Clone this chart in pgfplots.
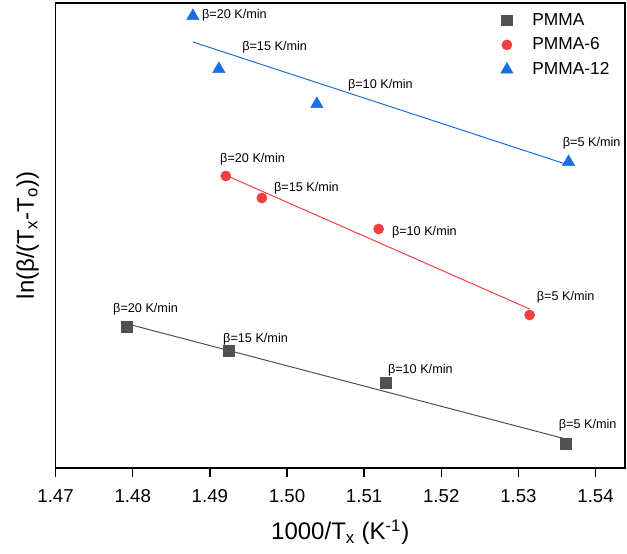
\documentclass[border=0pt]{standalone}
\usepackage{fontspec}
\setmainfont{Liberation Sans}
\usepackage{pgfplots}
\pgfplotsset{compat=1.18}
\definecolor{pgray}{HTML}{515151}
\definecolor{pred}{HTML}{F14040}
\definecolor{pblue}{HTML}{1A6FDF}

\begin{document}
\begin{tikzpicture}
\path[use as bounding box] (-41.7pt,-64.5pt) rectangle (428.6pt,351pt);
\begin{axis}[
  scale only axis, width=427pt, height=348.75pt,
  xmin=1.47, xmax=1.5438, ymin=0, ymax=4.65,
  xtick={1.47,1.48,1.49,1.50,1.51,1.52,1.53,1.54},
  ytick=\empty,
  xtick pos=bottom, tick align=outside, major tick length=7pt,
  axis line style={line width=1pt}, tick style={black, line width=1pt},
  xticklabel style={font=\fontsize{14}{16}\selectfont, yshift=-5.5pt, /pgf/number format/fixed, /pgf/number format/fixed zerofill, /pgf/number format/precision=2},
  /pgf/number format/assume math mode=true,
  xlabel={1000/T\textsubscript{x} (K\textsuperscript{-1})},
  ylabel={ln(β/(T\textsubscript{x}-T\textsubscript{o}))},
  label style={font=\fontsize{18}{20}\selectfont},
  xlabel style={yshift=-6pt},
  ylabel style={yshift=2pt},
  legend style={draw=none, fill=none, at={(0.985,0.99)}, anchor=north east,
    font=\fontsize{13}{15}\selectfont, row sep=4pt, column sep=12.5pt},
  legend cell align=left,
]
% fitted lines
\addplot[pgray, line width=0.75pt, forget plot] coordinates {(1.47925,1.442) (1.53612,0.290)};
\addplot[pred, line width=0.75pt, forget plot] coordinates {(1.49207,2.927) (1.53145,1.590)};
\addplot[pblue, line width=0.75pt, forget plot] coordinates {(1.48780,4.26) (1.53650,3.03)};
% data
\addplot[only marks, mark=square*, mark size=4pt, color=pgray] coordinates {
  (1.47925,1.41) (1.49246,1.17) (1.51280,0.85) (1.53612,0.24)};
\addplot[only marks, mark=*, mark size=3.8pt, color=pred] coordinates {
  (1.49207,2.92) (1.49674,2.70) (1.51188,2.39) (1.53145,1.53)};
\addplot[only marks, mark=triangle*, mark size=5.3pt, color=pblue] coordinates {
  (1.48780,4.52) (1.49117,3.99) (1.50387,3.64) (1.53650,3.06)};
\legend{PMMA, PMMA-6, PMMA-12}
% rate labels
\begin{scope}[every node/.style={anchor=west, inner sep=0pt, font=\fontsize{9.5}{11}\selectfont}]
\node at (axis cs:1.48896,4.53) {β=20 K/min};
\node at (axis cs:1.49417,4.21) {β=15 K/min};
\node at (axis cs:1.50788,3.83) {β=10 K/min};
\node at (axis cs:1.53573,3.25) {β=5 K/min};
\node at (axis cs:1.49131,3.09) {β=20 K/min};
\node at (axis cs:1.49829,2.80) {β=15 K/min};
\node at (axis cs:1.51358,2.36) {β=10 K/min};
\node at (axis cs:1.53236,1.71) {β=5 K/min};
\node at (axis cs:1.47744,1.59) {β=20 K/min};
\node at (axis cs:1.49170,1.29) {β=15 K/min};
\node at (axis cs:1.51306,0.98) {β=10 K/min};
\node at (axis cs:1.53521,0.43) {β=5 K/min};
\end{scope}
\end{axis}
\end{tikzpicture}
\end{document}
